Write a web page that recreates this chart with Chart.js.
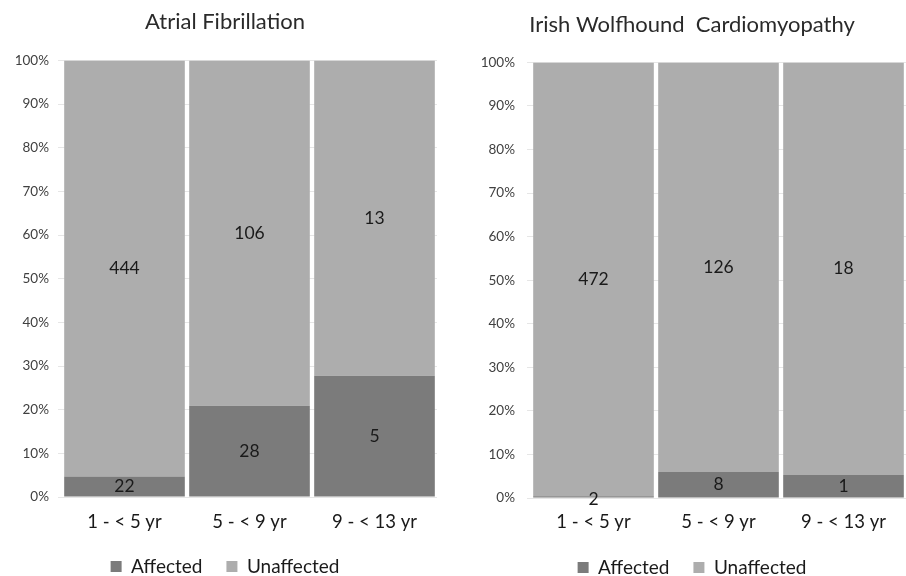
<!DOCTYPE html>
<html>
<head>
<meta charset="utf-8">
<script src="https://cdn.jsdelivr.net/npm/chart.js@4"></script>
<style>
  html, body { margin: 0; padding: 0; background: #fff; }
  #wrap { position: relative; width: 906px; height: 576px; }
  .box { position: absolute; top: 0; height: 576px; }
  #left { left: 13px; width: 440px; }
  #right { left: 478px; width: 428px; }
</style>
</head>
<body>
<div id="wrap">
  <div class="box" id="left"><canvas id="afChart"></canvas></div>
  <div class="box" id="right"><canvas id="iwcChart"></canvas></div>
</div>
<script>
const ageGroups = ['1 - < 5 yr', '5 - < 9 yr', '9 - < 13 yr'];
const afAffected = [22, 28, 5];
const afUnaffected = [444, 106, 13];
const iwcAffected = [2, 8, 1];
const iwcUnaffected = [472, 126, 18];
const yTicks = [0, 10, 20, 30, 40, 50, 60, 70, 80, 90, 100];

const FONT = 'Lato, "Open Sans", sans-serif';
const DARK = '#7b7b7b';
const LIGHT = '#adadad';

// share of each group, so the stacked bars fill to 100%
function toPct(part, other) {
    return part.map((v, i) => v / (v + other[i]) * 100);
}

// draws the raw counts in the middle of each segment
const countLabels = {
    id: 'countLabels',
    afterDatasetsDraw(chart) {
        const ctx = chart.ctx;
        ctx.save();
        ctx.font = '17.5px ' + FONT;
        ctx.fillStyle = '#1a1a1a';
        ctx.textAlign = 'center';
        ctx.textBaseline = 'middle';
        chart.data.datasets.forEach((ds, di) => {
            const meta = chart.getDatasetMeta(di);
            meta.data.forEach((bar, i) => {
                const h = Math.abs(bar.base - bar.y);
                // very thin segment: label sits on the axis line
                const y = h < 12 ? bar.base + 2 : (bar.y + bar.base) / 2;
                ctx.fillText(String(ds.counts[i]), bar.x, y);
            });
        });
        ctx.restore();
    }
};

function makeChart(id, title, affected, unaffected, cfg) {
    return new Chart(document.getElementById(id), {
        type: 'bar',
        data: {
            labels: ageGroups,
            datasets: [
                { label: 'Affected', data: toPct(affected, unaffected), counts: affected, backgroundColor: DARK },
                { label: 'Unaffected', data: toPct(unaffected, affected), counts: unaffected, backgroundColor: LIGHT }
            ]
        },
        options: {
            responsive: true,
            maintainAspectRatio: false,
            animation: false,
            datasets: { bar: { barPercentage: 0.965, categoryPercentage: 1 } },
            layout: { padding: { left: 0, right: cfg.padRight, top: 0, bottom: cfg.padBottom } },
            scales: {
                x: {
                    stacked: true,
                    grid: { display: false },
                    border: { display: false },
                    ticks: { color: '#1a1a1a', font: { family: FONT, size: 18.5 }, padding: cfg.xPad },
                    afterFit(s) { s.height = 36; }
                },
                y: {
                    stacked: true,
                    min: 0,
                    max: 100,
                    afterBuildTicks(s) { s.ticks = yTicks.map(v => ({ value: v })); },
                    ticks: {
                        color: '#404040',
                        font: { family: FONT, size: 13.5 },
                        padding: cfg.tickPad,
                        callback: v => v + '%'
                    },
                    grid: { color: '#e6e6e6', tickLength: 4 },
                    border: { display: false },
                    afterFit(s) { s.width = cfg.yWidth; }
                }
            },
            plugins: {
                title: {
                    display: true,
                    text: title,
                    color: '#2a2a2a',
                    font: { family: FONT, size: 22, weight: 'normal' },
                    padding: cfg.titlePad
                },
                legend: {
                    position: 'bottom',
                    labels: {
                        color: '#1a1a1a',
                        font: { family: FONT, size: 19 },
                        boxWidth: 11,
                        boxHeight: 11,
                        padding: 24
                    }
                },
                tooltip: { enabled: false }
            }
        },
        plugins: [countLabels]
    });
}

makeChart('afChart', 'Atrial Fibrillation', afAffected, afUnaffected,
    { padRight: 16, padBottom: -10, yWidth: 49, tickPad: 9, xPad: 6, titlePad: { top: 9, bottom: 25 } });
makeChart('iwcChart', 'Irish Wolfhound  Cardiomyopathy', iwcAffected, iwcUnaffected,
    { padRight: 0, padBottom: -11, yWidth: 53, tickPad: 12, xPad: 5, titlePad: { top: 12, bottom: 24 } });
</script>
</body>
</html>
